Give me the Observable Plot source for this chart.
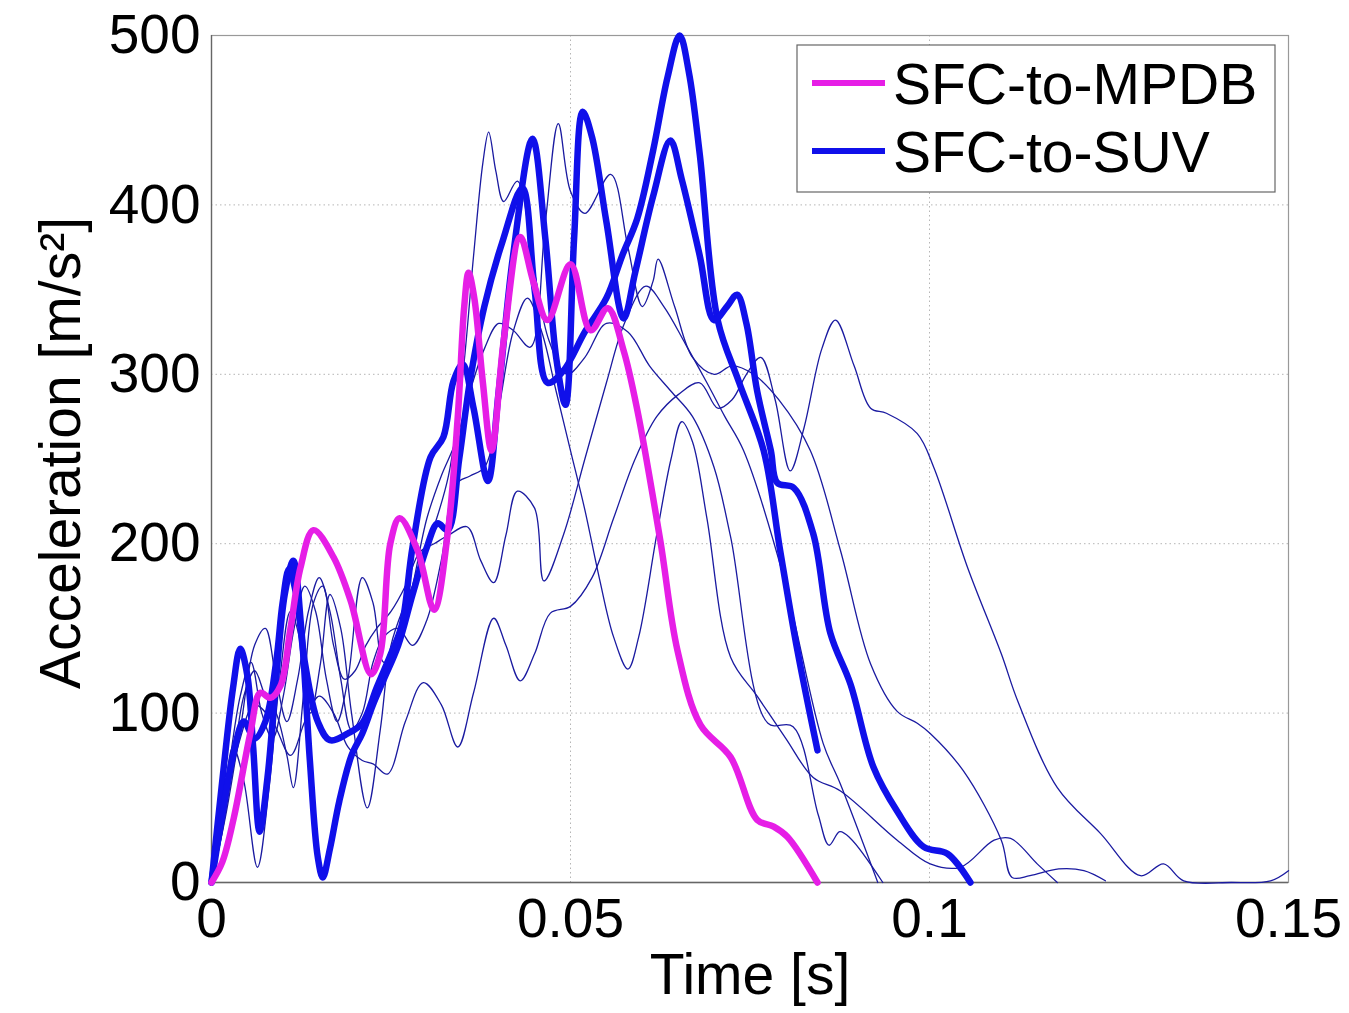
<!DOCTYPE html>
<html><head><meta charset="utf-8">
<script src="https://cdn.jsdelivr.net/npm/d3@7"></script>
<script src="https://cdn.jsdelivr.net/npm/@observablehq/plot@0.6"></script>
<style>body{margin:0;background:#fff;} #chart{width:1349px;height:1013px;}</style>
</head><body><div id="chart"></div>
<script>
const xTicks = [0, 0.05, 0.1, 0.15];
const xTickLabels = ["0", "0.05", "0.1", "0.15"];
const yTicks = [0, 100, 200, 300, 400, 500];
const seriesNames = ["SFC-to-MPDB", "SFC-to-SUV"];
const xLabel = "Time [s]";
const yLabel = "Acceleration [m/s²]";

// SFC-to-MPDB (thick magenta)
const mpdb = [[0,0],[0.0015,12],[0.0031,38],[0.0054,88],[0.0068,112],[0.0082,109],[0.0096,116],[0.011,150],[0.0124,186],[0.0142,208],[0.017,192],[0.0194,166],[0.0222,123],[0.0235,135],[0.0249,200],[0.0262,215],[0.0287,196],[0.031,161],[0.0329,206],[0.0343,275],[0.0352,340],[0.0358,360],[0.0366,345],[0.0378,295],[0.039,255],[0.0407,320],[0.043,381],[0.0448,355],[0.0468,332],[0.05,365],[0.0528,326],[0.0552,339],[0.0574,314],[0.0593,279],[0.0625,202],[0.0649,137],[0.0681,93],[0.0723,74],[0.076,37],[0.0783,33],[0.0802,27],[0.0844,0]];

// SFC-to-SUV, thick lines
const suvThickA = [[0,0],[0.0015,60],[0.003,115],[0.004,138],[0.005,122],[0.0058,80],[0.0067,30],[0.0078,62],[0.009,120],[0.0102,170],[0.0114,190],[0.0125,150],[0.0137,72],[0.0148,15],[0.0155,3],[0.0165,20],[0.0178,48],[0.0195,75],[0.021,88],[0.0225,105],[0.024,120],[0.026,140],[0.028,170],[0.03,198],[0.0315,212],[0.0329,208],[0.0345,250],[0.036,296],[0.038,340],[0.0405,378],[0.0433,410],[0.045,350],[0.0468,295],[0.049,302],[0.052,325],[0.055,345],[0.0572,370],[0.0593,392],[0.0615,432],[0.0635,475],[0.0652,500],[0.0665,478],[0.068,430],[0.0705,332],[0.0735,295],[0.0769,255],[0.0792,196],[0.0816,137],[0.0844,78]];
const suvThickB = [[0,0],[0.0015,40],[0.003,75],[0.0045,95],[0.006,85],[0.0075,95],[0.009,130],[0.0099,165],[0.0108,185],[0.0118,170],[0.013,130],[0.0148,95],[0.0165,84],[0.019,88],[0.021,94],[0.023,115],[0.025,135],[0.0265,152],[0.028,198],[0.0305,251],[0.0323,263],[0.0337,296],[0.035,306],[0.0365,280],[0.0385,237],[0.04,290],[0.042,370],[0.0447,439],[0.0465,380],[0.048,310],[0.0493,282],[0.0505,380],[0.0517,455],[0.053,440],[0.055,390],[0.0574,333],[0.059,360],[0.0615,405],[0.0639,438],[0.0655,415],[0.068,370],[0.07,332],[0.0718,340],[0.0732,347],[0.0745,330],[0.076,290],[0.0779,255],[0.0788,236],[0.0811,233],[0.0838,206],[0.0862,147],[0.089,117],[0.0922,68],[0.0955,42],[0.0992,21],[0.1025,17],[0.1057,0]];

// SFC-to-SUV, thin lines
const suvThin1 = [[0,0],[0.002,45],[0.004,85],[0.006,105],[0.0085,95],[0.011,75],[0.013,95],[0.015,110],[0.017,100],[0.019,80],[0.021,72],[0.0225,70],[0.0245,64],[0.027,95],[0.0295,118],[0.032,105],[0.0343,80],[0.0365,112],[0.0393,156],[0.041,140],[0.043,119],[0.045,135],[0.0472,159],[0.05,163],[0.053,180],[0.056,215],[0.059,250],[0.062,275],[0.065,288],[0.068,295],[0.0705,280],[0.0725,285],[0.0745,300],[0.0765,310],[0.0785,285],[0.0806,243],[0.0825,268],[0.085,315],[0.0869,332],[0.0895,305],[0.0918,280],[0.094,277],[0.0983,265],[0.1006,245],[0.1053,186],[0.11,135],[0.1123,107],[0.1178,56],[0.1238,29],[0.1294,4],[0.1326,11],[0.1354,1],[0.142,0],[0.1475,1],[0.15,7]];
const suvThin2 = [[0,0],[0.0015,40],[0.003,80],[0.0045,60],[0.0064,9],[0.008,55],[0.0095,120],[0.011,160],[0.0125,140],[0.0138,100],[0.0152,130],[0.0165,170],[0.018,150],[0.0195,100],[0.0217,44],[0.0235,90],[0.025,140],[0.027,165],[0.029,185],[0.031,210],[0.033,240],[0.035,300],[0.0365,370],[0.0378,425],[0.0386,443],[0.0396,420],[0.0407,402],[0.0426,414],[0.045,360],[0.047,320],[0.0495,300],[0.052,310],[0.055,330],[0.058,325],[0.061,305],[0.064,290],[0.067,275],[0.07,245],[0.0723,204],[0.0775,94],[0.081,92],[0.0845,40],[0.086,22],[0.0875,30],[0.089,26],[0.0935,0]];
const suvThin3 = [[0,0],[0.002,55],[0.004,110],[0.0055,130],[0.007,100],[0.0085,85],[0.01,110],[0.0115,150],[0.013,175],[0.0145,160],[0.016,120],[0.0175,95],[0.019,120],[0.021,180],[0.0225,165],[0.024,130],[0.026,140],[0.028,175],[0.03,215],[0.032,240],[0.034,260],[0.036,290],[0.038,315],[0.04,330],[0.042,326],[0.0444,316],[0.0465,390],[0.0483,448],[0.05,408],[0.052,395],[0.0556,418],[0.058,375],[0.06,340],[0.0615,355],[0.0622,368],[0.0645,340],[0.067,310],[0.07,300],[0.0725,305],[0.0755,300],[0.079,285],[0.0834,255],[0.0876,196],[0.0918,129],[0.0955,101],[0.0983,94],[0.1001,88],[0.1047,66],[0.11,25],[0.1115,3],[0.114,4],[0.118,8],[0.1215,7],[0.1245,1]];
const suvThin4 = [[0,0],[0.0015,30],[0.003,70],[0.0045,110],[0.006,125],[0.0075,110],[0.009,100],[0.0105,75],[0.0114,56],[0.0128,110],[0.0142,165],[0.0155,175],[0.017,140],[0.0185,120],[0.02,125],[0.0215,140],[0.023,150],[0.025,160],[0.027,175],[0.029,195],[0.031,200],[0.033,205],[0.0356,210],[0.0375,190],[0.0393,177],[0.041,205],[0.0426,231],[0.045,221],[0.0463,178],[0.049,205],[0.052,250],[0.055,295],[0.0575,330],[0.0605,352],[0.063,340],[0.066,318],[0.069,295],[0.0715,275],[0.0741,255],[0.0797,180],[0.0852,82],[0.0876,58],[0.0928,0]];
const suvThin5 = [[0,0],[0.002,40],[0.004,90],[0.006,140],[0.0075,150],[0.009,120],[0.0105,95],[0.012,120],[0.0135,160],[0.015,180],[0.0165,160],[0.018,120],[0.0195,90],[0.021,100],[0.0225,130],[0.024,145],[0.026,150],[0.028,140],[0.03,155],[0.032,190],[0.034,235],[0.036,240],[0.038,245],[0.04,280],[0.042,325],[0.044,345],[0.046,325],[0.048,290],[0.05,255],[0.052,220],[0.054,180],[0.056,145],[0.058,126],[0.0595,145],[0.062,205],[0.064,250],[0.0655,272],[0.067,260],[0.069,215],[0.0723,133],[0.076,110],[0.08,85],[0.0838,62],[0.0876,54],[0.0955,25],[0.1001,11],[0.1043,9],[0.109,25],[0.1113,26],[0.115,11],[0.1178,0]];

const rows = [];
function add(id, kind, pts) { pts.forEach(([t, a]) => rows.push({id, kind, t, a})); }
add("thin1", "thin", suvThin1);
add("thin2", "thin", suvThin2);
add("thin3", "thin", suvThin3);
add("thin4", "thin", suvThin4);
add("thin5", "thin", suvThin5);
add("thickA", "thick", suvThickA);
add("thickB", "thick", suvThickB);
add("mpdb", "mpdb", mpdb);

const colMag = "#e61ee6", colBlue = "#1010ea", colThin = "#1a1aa0";
const font = "'Liberation Sans', Arial, Helvetica, sans-serif";

const plot = Plot.plot({
  width: 1349, height: 1013,
  marginLeft: 211, marginRight: 61, marginTop: 35, marginBottom: 131,
  style: {fontFamily: font, fontSize: "55px", background: "#fff", color: "#000", overflow: "visible"},
  x: {domain: [0, 0.15]},
  y: {domain: [0, 500]},
  marks: [
    Plot.gridX(xTicks.slice(1, -1), {stroke: "#b5b5b5", strokeOpacity: 1, strokeDasharray: "1.5,3"}),
    Plot.gridY(yTicks.slice(1, -1), {stroke: "#b5b5b5", strokeOpacity: 1, strokeDasharray: "1.5,3"}),
    Plot.frame({stroke: "#999", strokeWidth: 1.2}),
    Plot.ruleX([0], {stroke: "#666", strokeWidth: 1.3}),
    Plot.ruleY([0], {stroke: "#666", strokeWidth: 1.3}),
    Plot.axisX(xTicks, {tickSize: 0, tickPadding: 15, fontSize: 55, label: null,
      tickFormat: d => xTickLabels[xTicks.indexOf(d)]}),
    Plot.axisY(yTicks, {tickSize: 0, tickPadding: 11, fontSize: 55, label: null}),
    Plot.line(rows.filter(d => d.kind === "thin"), {x: "t", y: "a", z: "id", stroke: colThin, strokeWidth: 1.3, curve: "catmull-rom"}),
    Plot.line(rows.filter(d => d.kind === "thick"), {x: "t", y: "a", z: "id", stroke: colBlue, strokeWidth: 6.5, curve: "catmull-rom"}),
    Plot.line(rows.filter(d => d.kind === "mpdb"), {x: "t", y: "a", z: "id", stroke: colMag, strokeWidth: 6.5, curve: "catmull-rom"}),
    Plot.text([xLabel], {frameAnchor: "bottom", dy: 71, lineAnchor: "top", fontSize: 57}),
    Plot.text([yLabel], {frameAnchor: "left", rotate: -90, dx: -150, dy: -6, fontSize: 57, textAnchor: "middle", lineAnchor: "middle"})
  ]
});
document.getElementById("chart").appendChild(plot);

// legend inside the axes (top-right)
const svg = d3.select(plot);
const lg = svg.append("g").attr("font-family", font).attr("font-size", 57).attr("text-anchor", "start");
lg.append("rect").attr("x", 797).attr("y", 45).attr("width", 478).attr("height", 147)
  .attr("fill", "#fff").attr("stroke", "#666").attr("stroke-width", 1.2);
const legendItems = [{name: seriesNames[0], color: colMag}, {name: seriesNames[1], color: colBlue}];
legendItems.forEach((d, i) => {
  const cy = 83 + i * 68;
  lg.append("line").attr("x1", 812).attr("x2", 885).attr("y1", cy).attr("y2", cy)
    .attr("stroke", d.color).attr("stroke-width", 6);
  lg.append("text").attr("x", 893).attr("y", cy + 21).attr("text-anchor", "start").attr("fill", "#000").text(d.name);
});
</script>
</body></html>
